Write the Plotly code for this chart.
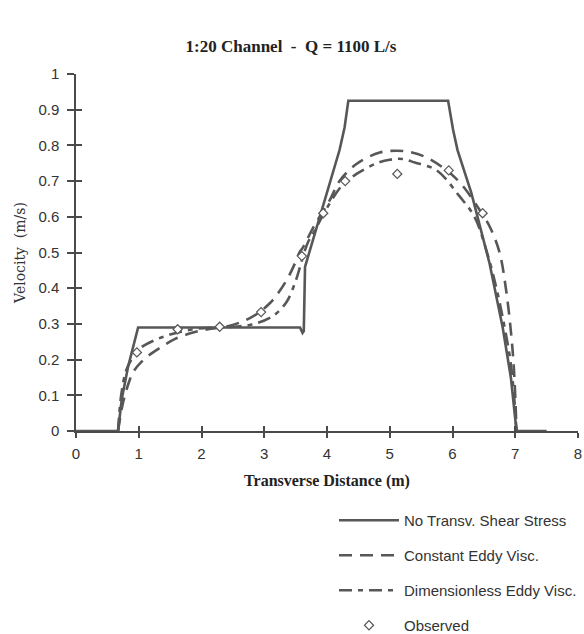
import plotly.graph_objects as go

# ---- data ----
solid_x = [0, 0.67, 0.73, 0.83, 0.99, 3.57, 3.61, 3.63, 3.65, 3.9, 4.2, 4.28, 4.34,
           5.93, 6.01, 6.08, 6.3, 6.59, 6.8, 6.93, 7.02, 7.5]
solid_y = [0, 0, 0.09, 0.18, 0.29, 0.29, 0.275, 0.28, 0.46, 0.61, 0.787, 0.85, 0.925,
           0.925, 0.843, 0.787, 0.667, 0.47, 0.29, 0.15, 0, 0]

const_x = [0.67, 0.75, 0.85, 0.91, 1.05, 1.21, 1.4, 1.58, 1.85, 2.1, 2.4, 2.7, 2.9,
           3.1, 3.22, 3.38, 3.49, 3.56, 3.62, 3.78, 4.04, 4.2, 4.47, 4.84, 5.1, 5.3,
           5.6, 6.07, 6.43, 6.6, 6.75, 6.85, 6.93, 6.98, 7.02]
const_y = [0, 0.08, 0.14, 0.165, 0.195, 0.218, 0.24, 0.258, 0.275, 0.285, 0.293, 0.31,
           0.33, 0.36, 0.386, 0.43, 0.47, 0.5, 0.515, 0.57, 0.645, 0.7, 0.748, 0.78,
           0.785, 0.782, 0.765, 0.705, 0.62, 0.57, 0.5, 0.4, 0.28, 0.17, 0]

dimless_x = [0.67, 0.72, 0.8, 0.9, 1.02, 1.26, 1.5, 1.86, 2.2, 2.5, 2.8, 3.12, 3.35,
             3.5, 3.57, 3.62, 3.7, 3.8, 4.0, 4.25, 4.47, 4.79, 5.0, 5.2, 5.4, 5.75,
             6.1, 6.35, 6.55, 6.7, 6.82, 6.92, 6.98, 7.02]
dimless_y = [0, 0.1, 0.17, 0.205, 0.232, 0.255, 0.27, 0.285, 0.29, 0.292, 0.298, 0.32,
             0.36, 0.42, 0.46, 0.49, 0.53, 0.56, 0.625, 0.69, 0.72, 0.75, 0.76, 0.762,
             0.752, 0.73, 0.66, 0.6, 0.5, 0.4, 0.3, 0.2, 0.1, 0]

obs_x = [0.97, 1.62, 2.29, 2.95, 3.6, 3.94, 4.29, 5.12, 5.94, 6.48]
obs_y = [0.22, 0.285, 0.292, 0.333, 0.49, 0.61, 0.70, 0.72, 0.73, 0.61]

x_ticks = [0, 1, 2, 3, 4, 5, 6, 7, 8]
y_ticks = [0, 0.1, 0.2, 0.3, 0.4, 0.5, 0.6, 0.7, 0.8, 0.9, 1]
y_tick_text = ["0", "0.1", "0.2", "0.3", "0.4", "0.5", "0.6", "0.7", "0.8", "0.9", "1"]

names = ["No Transv. Shear Stress", "Constant Eddy Visc.",
         "Dimensionless Eddy Visc.", "Observed"]

LINE = "#575757"
AX = "#4a4a4a"

fig = go.Figure()
fig.add_trace(go.Scatter(x=solid_x, y=solid_y, mode="lines", name=names[0],
                         legendgroup="a",
                         line=dict(color=LINE, width=2.6)))
fig.add_trace(go.Scatter(x=const_x, y=const_y, mode="lines", name=names[1],
                         legendgroup="b", line_shape="spline",
                         line=dict(color=LINE, width=2.6, dash="13px,8px")))
fig.add_trace(go.Scatter(x=dimless_x, y=dimless_y, mode="lines", name=names[2],
                         legendgroup="c", line_shape="spline",
                         line=dict(color=LINE, width=2.6, dash="13px,6px,5px,6px")))
fig.add_trace(go.Scatter(x=obs_x, y=obs_y, mode="markers", name=names[3],
                         legendgroup="d",
                         marker=dict(symbol="diamond", size=7, color="white",
                                     line=dict(color=LINE, width=1.2))))

tickfont = dict(family="Liberation Sans, Arial, sans-serif", size=15, color="#333")

fig.update_layout(
    width=584, height=634,
    margin=dict(l=76, r=6, t=74, b=203, autoexpand=False),
    paper_bgcolor="white", plot_bgcolor="white",
    title=dict(text="<b>1:20 Channel  -  Q = 1100 L/s</b>",
               x=291 / 584, xref="container", xanchor="center",
               y=1 - 46 / 634, yref="container", yanchor="middle",
               font=dict(family="Liberation Serif, Times New Roman, serif",
                         size=17, color="#222")),
    xaxis=dict(range=[0, 8], tickvals=x_ticks, showgrid=False, zeroline=False,
               automargin=False,
               showline=True, linecolor=AX, linewidth=1.5,
               ticks="outside", ticklen=5, tickwidth=1.5, tickcolor=AX,
               ticklabelstandoff=3,
               tickfont=tickfont,
               title=dict(text="<b>Transverse Distance (m)</b>", standoff=14,
                          font=dict(family="Liberation Serif, Times New Roman, serif",
                                    size=16, color="#222"))),
    yaxis=dict(range=[0, 1], tickvals=y_ticks, ticktext=y_tick_text,
               showgrid=False, zeroline=False, automargin=False,
               showline=True, linecolor=AX, linewidth=1.5,
               ticks="outside", ticklen=7, tickwidth=1.5, tickcolor=AX,
               ticklabelstandoff=5,
               tickfont=tickfont,
               title=dict(text="Velocity  (m/s)", standoff=9,
                          font=dict(family="DejaVu Serif, serif", size=14,
                                    color="#333"))),
    xaxis2=dict(range=[0, 8], tickvals=x_ticks, overlaying="x", anchor="y",
                side="bottom", showgrid=False, zeroline=False, showline=False,
                automargin=False,
                ticks="inside", ticklen=5, tickwidth=1.5, tickcolor=AX,
                showticklabels=False),
    yaxis2=dict(range=[0, 1], tickvals=y_ticks, overlaying="y", anchor="x",
                side="left", showgrid=False, zeroline=False, showline=False,
                automargin=False,
                ticks="inside", ticklen=6, tickwidth=1.5, tickcolor=AX,
                showticklabels=False),
    legend=dict(x=(334 - 76) / 502, xanchor="left",
                y=(431 - 504) / 357, yanchor="top",
                font=dict(family="Liberation Sans, Arial, sans-serif", size=15,
                          color="#333"),
                tracegroupgap=12.5, itemwidth=60, bgcolor="rgba(0,0,0,0)"),
    showlegend=True,
)

# invisible helper trace so the secondary (crossing-tick) axes are rendered
fig.add_trace(go.Scatter(x=[0], y=[0], xaxis="x2", yaxis="y2", mode="markers",
                         marker=dict(opacity=0), showlegend=False, hoverinfo="skip"))

fig.write_html("out.html",
               config={"displayModeBar": False},
               post_script="document.body.style.margin='0px';"
                           "document.body.style.overflow='hidden';")
